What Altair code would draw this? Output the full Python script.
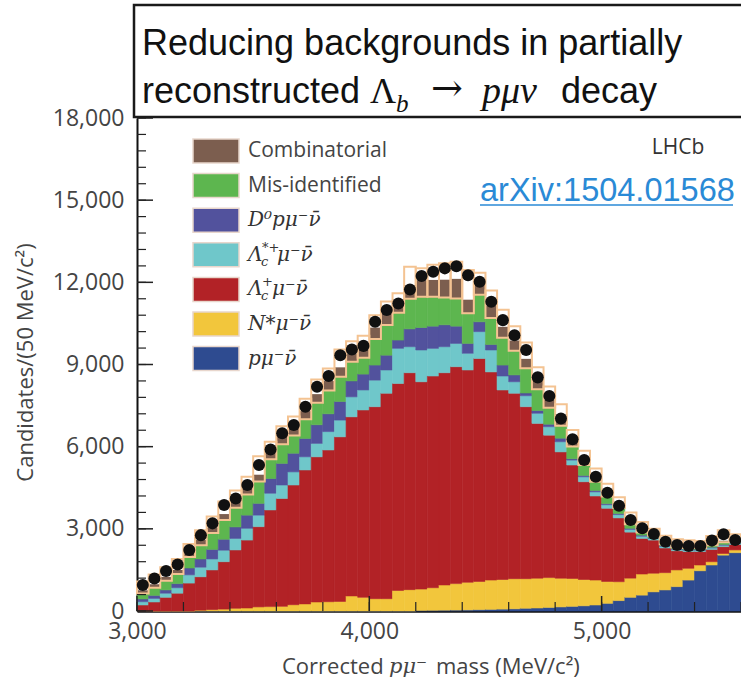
import altair as alt
import pandas as pd

# ---------------- data ----------------
bin_start = 3000   # MeV/c^2, left edge of first bin
bin_width = 50     # MeV/c^2

data_counts = [950, 1190, 1460, 1700, 2230, 2770, 3200, 3870, 4110, 4600,
               5330, 5900, 6490, 6790, 7460, 8190, 8580, 9340, 9550, 9680,
               10560, 10990, 11230, 11740, 12230, 12390, 12510, 12590, 12260, 12020,
               11290, 10620, 10070, 9530, 8530, 7850, 7030, 6270, 5510, 4900,
               4320, 3840, 3320, 3020, 2810, 2530, 2410, 2370, 2370, 2570,
               2800, 2590]

pmunu = [0, 0, 0, 0, 0, 0, 0, 0, 0, 0,
         0, 0, 0, 0, 0, 0, 0, 0, 0, 0,
         0, 0, 0, 0, 20, 25, 30, 35, 40, 50,
         60, 70, 80, 100, 110, 130, 150, 170, 190, 220,
         280, 380, 500, 580, 700, 770, 890, 1130, 1470, 1680,
         2040, 2130]
nstar = [0, 0, 0, 0, 0, 30, 50, 70, 100, 110,
         150, 160, 170, 230, 260, 330, 340, 350, 550, 500,
         450, 450, 750, 780, 780, 825, 920, 965, 1010, 1030,
         1070, 1080, 1100, 1080, 1090, 1090, 1050, 1020, 960, 910,
         800, 690, 700, 770, 680, 630, 610, 430, 210, 120,
         60, 100]
lc = [220, 330, 500, 650, 1020, 1220, 1450, 1730, 2130, 2480,
      2930, 3530, 3940, 4370, 4890, 5300, 5540, 6010, 6540, 6840,
      7010, 7500, 7560, 7920, 7570, 7730, 7750, 7920, 7750, 8140,
      7600, 6920, 6770, 6280, 5650, 5200, 4610, 4140, 3570, 3070,
      2670, 2330, 1680, 1300, 1210, 900, 700, 610, 490, 450,
      250, 200]
lcstar = [120, 130, 150, 200, 300, 350, 400, 420, 420, 430,
          420, 610, 490, 480, 480, 490, 670, 610, 730, 730,
          970, 850, 1280, 950, 1160, 1010, 950, 850, 610, 980,
          800, 510, 420, 400, 370, 310, 370, 180, 180, 150,
          130, 120, 100, 80, 60, 60, 50, 50, 50, 50,
          50, 50]
d0 = [100, 110, 120, 150, 250, 300, 350, 400, 420, 480,
      430, 540, 790, 680, 670, 680, 650, 680, 580, 580,
      550, 540, 300, 650, 820, 810, 800, 630, 360, 360,
      200, 400, 250, 100, 100, 90, 130, 50, 50, 50,
      40, 40, 40, 40, 30, 30, 30, 30, 30, 30,
      30, 30]
misid = [200, 280, 330, 350, 400, 500, 600, 700, 700, 750,
         800, 700, 700, 650, 700, 800, 850, 900, 700, 600,
         950, 1100, 1000, 1100, 1120, 1070, 1000, 1010, 1100, 990,
         970, 1000, 880, 900, 780, 600, 450, 450, 380, 320,
         260, 200, 150, 100, 70, 50, 50, 50, 50, 70,
         80, 50]
comb = [120, 130, 150, 150, 180, 200, 200, 220, 220, 230,
        250, 250, 280, 300, 300, 320, 350, 350, 300, 300,
        420, 450, 250, 400, 600, 620, 650, 720, 500, 500,
        450, 400, 380, 350, 300, 300, 250, 250, 200, 180,
        150, 120, 100, 100, 80, 70, 60, 60, 60, 60,
        60, 60]
fit_total = [1080, 1330, 1600, 1900, 2450, 2950, 3450, 4000, 4400, 4900,
             5650, 6180, 6750, 7100, 7750, 8450, 8850, 9550, 9850, 10050,
             10800, 11300, 11600, 12570, 12510, 12640, 12700, 12750, 12450, 12350,
             11700, 11000, 10400, 9800, 8900, 8200, 7550, 6610, 5850, 5200,
             4650, 4150, 3600, 3250, 3000, 2750, 2620, 2580, 2560, 2740,
             2950, 2800]

comp_names = ["pmunu", "nstar", "lc", "lcstar", "d0", "misid", "comb"]
comp_values = [pmunu, nstar, lc, lcstar, d0, misid, comb]
comp_colors = ["#2e4b90", "#f2c63c", "#b22226", "#6fc7ca", "#52529d", "#5db64f", "#7c5e4f"]

y_major = [0, 3000, 6000, 9000, 12000, 15000, 18000]
y_minor = list(range(0, 18001, 600))
x_major = [3000, 4000, 5000]
x_minor = list(range(3000, 5601, 200))

# ---------------- tables ----------------
n = len(data_counts)
rows = []
box_rows = []
for i in range(n):
    x0 = bin_start + i * bin_width
    x1 = x0 + bin_width
    cum = 0
    tops = {}
    for name, vals in zip(comp_names, comp_values):
        rows.append({"x0": x0, "x1": x1, "y0": cum, "y1": cum + vals[i], "comp": name})
        cum += vals[i]
        tops[name] = cum
    box_rows.append({"x0": x0, "x1": x1, "xc": (x0 + x1) / 2,
                     "g": tops["misid"], "b": tops["comb"],
                     "fit": fit_total[i], "data": data_counts[i]})
stack_df = pd.DataFrame(rows)
box_df = pd.DataFrame(box_rows)

W, H = 604, 493
xs = alt.Scale(domain=[3000, 5600], nice=False, zero=False)
ys = alt.Scale(domain=[0, 18000], nice=False)
col_scale = alt.Scale(domain=comp_names, range=comp_colors)

bars = alt.Chart(stack_df).mark_rect(strokeWidth=0.6).encode(
    x=alt.X("x0:Q", scale=xs,
            axis=alt.Axis(values=x_major, format=",d", ticks=False, labelFlush=False,
                          labelFont="Open Sans", labelFontSize=23, labelColor="#444",
                          labelPadding=9, domainColor="#111", domainWidth=2.5,
                          grid=False, title=None)),
    x2="x1:Q",
    y=alt.Y("y0:Q", scale=ys,
            axis=alt.Axis(values=y_major, format=",d", ticks=False,
                          labelFont="Open Sans", labelFontSize=23, labelColor="#444",
                          labelPadding=13, domainColor="#111", domainWidth=2,
                          grid=False, title="Candidates/(50 MeV/c²)",
                          titleFont="Open Sans", titleFontSize=22, titleColor="#444",
                          titleFontWeight="normal", titleX=-112, titleY=244,
                          titleAngle=-90, titleAlign="center", titleBaseline="middle")),
    y2="y1:Q",
    color=alt.Color("comp:N", scale=col_scale, legend=None),
    stroke=alt.Stroke("comp:N", scale=col_scale, legend=None),
)

white_box = alt.Chart(box_df).mark_rect(fill="white").encode(
    x=alt.X("x0:Q", scale=xs), x2="x1:Q",
    y=alt.Y("b:Q", scale=ys), y2="fit:Q")
outline_box = alt.Chart(box_df).mark_rect(fillOpacity=0, stroke="#f4c392", strokeWidth=2).encode(
    x=alt.X("x0:Q", scale=xs), x2="x1:Q",
    y=alt.Y("g:Q", scale=ys), y2="fit:Q")
dots = alt.Chart(box_df).mark_circle(size=145, color="#111", opacity=1).encode(
    x=alt.X("xc:Q", scale=xs), y=alt.Y("data:Q", scale=ys))

ytick_minor = alt.Chart(pd.DataFrame({"v": y_minor})).mark_rule(color="#222", strokeWidth=1.2).encode(
    y=alt.Y("v:Q", scale=ys), x=alt.value(0), x2=alt.value(9))
ytick_major = alt.Chart(pd.DataFrame({"v": y_major})).mark_rule(color="#222", strokeWidth=1.5).encode(
    y=alt.Y("v:Q", scale=ys), x=alt.value(0), x2=alt.value(16))
xtick_minor = alt.Chart(pd.DataFrame({"v": x_minor})).mark_rule(color="#222", strokeWidth=1.2).encode(
    x=alt.X("v:Q", scale=xs), y=alt.value(H), y2=alt.value(H - 9))
xtick_major = alt.Chart(pd.DataFrame({"v": x_major})).mark_rule(color="#222", strokeWidth=1.5).encode(
    x=alt.X("v:Q", scale=xs), y=alt.value(H), y2=alt.value(H - 15))


def txt(s, x, y, size, font, color="#111", style="normal", align="left", baseline="alphabetic"):
    return alt.Chart(pd.DataFrame({"t": [s]})).mark_text(
        align=align, baseline=baseline, font=font, fontSize=size,
        fontStyle=style, color=color).encode(
        x=alt.value(x), y=alt.value(y), text="t:N")


# title box
title_box = alt.Chart(pd.DataFrame({"a": [0]})).mark_rect(
    fill="white", stroke="#1a1a1a", strokeWidth=2.5).encode(
    x=alt.value(-3), x2=alt.value(640), y=alt.value(-113), y2=alt.value(-1))
sans = "Liberation Sans"
serif = "Liberation Serif"
title_layers = [
    txt("Reducing backgrounds in partially", 5, -63, 36, sans),
    txt("reconstructed", 5, -15, 36, sans),
    txt("Λ", 233, -15, 36, serif),
    txt("b", 259, -6, 25, serif, style="italic"),
    txt("→", 310, -17, 38, "DejaVu Serif", align="center"),
    txt("pμν", 345, -15, 38, serif, style="italic"),
    txt("decay", 424, -15, 36, sans),
]

# legend
row_y0, row_dy = 33, 34.6
sw_names = ["comb", "misid", "d0", "lcstar", "lc", "nstar", "pmunu"]
leg_layers = []
for i, nm in enumerate(sw_names):
    cy = row_y0 + i * row_dy
    c = comp_colors[comp_names.index(nm)]
    leg_layers.append(alt.Chart(pd.DataFrame({"a": [0]})).mark_rect(
        fill=c, stroke="#e8d6cc", strokeWidth=1.5).encode(
        x=alt.value(56), x2=alt.value(102), y=alt.value(cy - 12), y2=alt.value(cy + 12)))
lab_font = "Open Sans"
mfont = "DejaVu Serif"
mc = "#333"
leg_layers += [
    txt("Combinatorial", 111, row_y0, 21, lab_font, color="#444", baseline="middle"),
    txt("Mis-identified", 111, row_y0 + row_dy, 21, lab_font, color="#444", baseline="middle"),
    txt("D⁰pμ⁻ν̄", 111, row_y0 + 2 * row_dy, 20, mfont, color=mc, style="italic", baseline="middle"),
    txt("Λ", 111, row_y0 + 3 * row_dy, 20, mfont, color=mc, style="italic", baseline="middle"),
    txt("c", 124, row_y0 + 3 * row_dy + 7, 13, mfont, color=mc, style="italic", baseline="middle"),
    txt("*+", 125, row_y0 + 3 * row_dy - 7, 13, mfont, color=mc, style="italic", baseline="middle"),
    txt("μ⁻ν̄", 140, row_y0 + 3 * row_dy, 20, mfont, color=mc, style="italic", baseline="middle"),
    txt("Λ", 111, row_y0 + 4 * row_dy, 20, mfont, color=mc, style="italic", baseline="middle"),
    txt("c", 124, row_y0 + 4 * row_dy + 7, 13, mfont, color=mc, style="italic", baseline="middle"),
    txt("+", 125, row_y0 + 4 * row_dy - 7, 13, mfont, color=mc, style="italic", baseline="middle"),
    txt("μ⁻ν̄", 135, row_y0 + 4 * row_dy, 20, mfont, color=mc, style="italic", baseline="middle"),
    txt("N*μ⁻ν̄", 111, row_y0 + 5 * row_dy, 20, mfont, color=mc, style="italic", baseline="middle"),
    txt("pμ⁻ν̄", 111, row_y0 + 6 * row_dy, 20, mfont, color=mc, style="italic", baseline="middle"),
]

# annotations
ann_layers = [
    txt("LHCb", 541, 30, 21, "Open Sans", color="#333", align="center", baseline="middle"),
    txt("arXiv:1504.01568", 343, 83, 32.5, sans, color="#2a8ad6"),
    alt.Chart(pd.DataFrame({"a": [0]})).mark_rule(color="#2a8ad6", strokeWidth=1.5).encode(
        x=alt.value(343), x2=alt.value(596), y=alt.value(87)),
]

# x-axis title pieces
xt_y = 549
xtitle_layers = [
    txt("Corrected", 145, xt_y, 22, "Open Sans", color="#444", baseline="middle"),
    txt("pμ⁻", 252, xt_y, 21, mfont, color="#444", style="italic", baseline="middle"),
    txt("mass (MeV/c²)", 299, xt_y, 22, "Open Sans", color="#444", baseline="middle"),
]

chart = alt.layer(
    bars, white_box, outline_box, dots,
    ytick_minor, ytick_major, xtick_minor, xtick_major,
    title_box, *title_layers, *leg_layers, *ann_layers, *xtitle_layers
).properties(
    width=W, height=H,
    autosize=alt.AutoSizeParams(type="none"),
    padding={"left": 137, "top": 118, "right": 0, "bottom": 74},
    background="white",
).configure_view(strokeWidth=0)

chart.save("out.html", embed_options={"renderer": "svg", "actions": False})
